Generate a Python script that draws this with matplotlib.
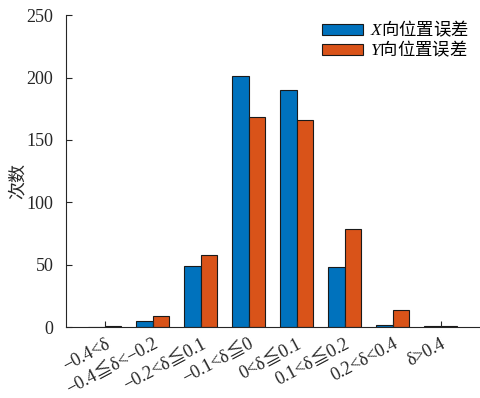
import numpy as np
import matplotlib
matplotlib.use("Agg")
import matplotlib.pyplot as plt

plt.rcParams['font.family'] = ['Liberation Serif', 'Noto Sans CJK SC', 'DejaVu Sans']
plt.rcParams['mathtext.fontset'] = 'custom'
plt.rcParams['mathtext.rm'] = 'Noto Sans CJK SC'
plt.rcParams['mathtext.it'] = 'Liberation Serif:italic'
plt.rcParams['axes.unicode_minus'] = True

# error bins and counts
bins = ['−0.4<δ', '−0.4≦δ<−0.2', '−0.2<δ≦0.1', '−0.1<δ≦0',
        '0<δ≦0.1', '0.1<δ≦0.2', '0.2<δ<0.4', 'δ>0.4']
x_err = [0, 5, 49, 201, 190, 48, 2, 1]
y_err = [1, 9, 58, 168, 166, 79, 14, 1]
series_names = [r'$\mathit{X}\mathrm{向位置误差}$', r'$\mathit{Y}\mathrm{向位置误差}$']
yticks = [0, 50, 100, 150, 200, 250]

fig = plt.figure(figsize=(4.81, 3.98), dpi=100)
ax = fig.add_axes([0.137, 0.178, 0.86, 0.784])

pos = np.arange(1, len(bins) + 1)
w = 0.34
ax.bar(pos - w / 2, x_err, w, color='#0072BD', edgecolor='#1a1a1a',
       linewidth=0.8, label=series_names[0])
ax.bar(pos + w / 2, y_err, w, color='#D95319', edgecolor='#1a1a1a',
       linewidth=0.8, label=series_names[1])

ax.set_xlim(0.19, 8.81)
ax.set_ylim(0, 250)
ax.set_yticks(yticks)
ax.set_xticks(pos)
ax.set_xticklabels(bins, rotation=28, ha='right', rotation_mode='anchor')
ax.tick_params(direction='in', length=4, width=0.8, labelsize=13,
               colors='#262626', labelcolor='#262626')
ax.tick_params(axis='x', pad=6)
ax.tick_params(axis='y', pad=9)
for s in ['top', 'right']:
    ax.spines[s].set_visible(False)
for s in ['left', 'bottom']:
    ax.spines[s].set_color('#262626')
    ax.spines[s].set_linewidth(0.8)

ax.set_ylabel('次数', fontsize=13, color='#262626')
ax.yaxis.set_label_coords(-0.095, 0.47)

ax.legend(loc='upper right', frameon=False, fontsize=12.5, handlelength=2.4,
          handleheight=0.55, handletextpad=0.4, labelspacing=-0.02,
          bbox_to_anchor=(1.0, 1.02), borderaxespad=0.2)

fig.savefig('out.png', dpi=100)
